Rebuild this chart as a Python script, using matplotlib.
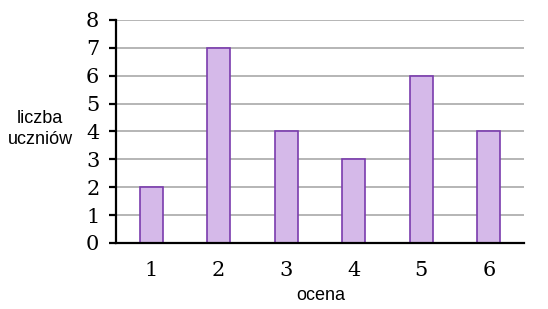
import matplotlib
matplotlib.use("Agg")
import matplotlib.pyplot as plt

# dane: ocena -> liczba uczniow
oceny = [1, 2, 3, 4, 5, 6]
liczba = [2, 7, 4, 3, 6, 4]
yticks = [0, 1, 2, 3, 4, 5, 6, 7, 8]

fig = plt.figure(figsize=(5.48, 3.09), dpi=100)
ax = fig.add_axes([0.2117, 0.2136, 0.7443, 0.7217])

ax.bar(oceny, liczba, width=0.34, color="#d5b9e9", edgecolor="#7a3cae",
       linewidth=1.2, zorder=3)

ax.set_xlim(0.48, 6.52)
ax.set_ylim(0, 8)
ax.set_yticks(yticks)
ax.set_xticks(oceny)
ax.yaxis.grid(True, color="#b0b0b0", linewidth=1.3, zorder=0)

for s in ["top", "right"]:
    ax.spines[s].set_visible(False)
ax.spines["left"].set_linewidth(1.6)
ax.spines["bottom"].set_linewidth(1.6)
ax.spines["bottom"].set_zorder(4)

ax.tick_params(axis="y", length=5, width=1.6, pad=7)
ax.tick_params(axis="x", length=0, pad=13)
for lab in ax.get_xticklabels() + ax.get_yticklabels():
    lab.set_fontfamily("DejaVu Serif")
    lab.set_fontsize(15)

fig.text(0.073, 0.583, "liczba\nuczniów", ha="center", va="center",
         fontsize=13, family="Liberation Sans", linespacing=1.35)
fig.text(0.586, 0.045, "ocena", ha="center", va="center",
         fontsize=13, family="Liberation Sans")

fig.savefig("out.png", dpi=100)
